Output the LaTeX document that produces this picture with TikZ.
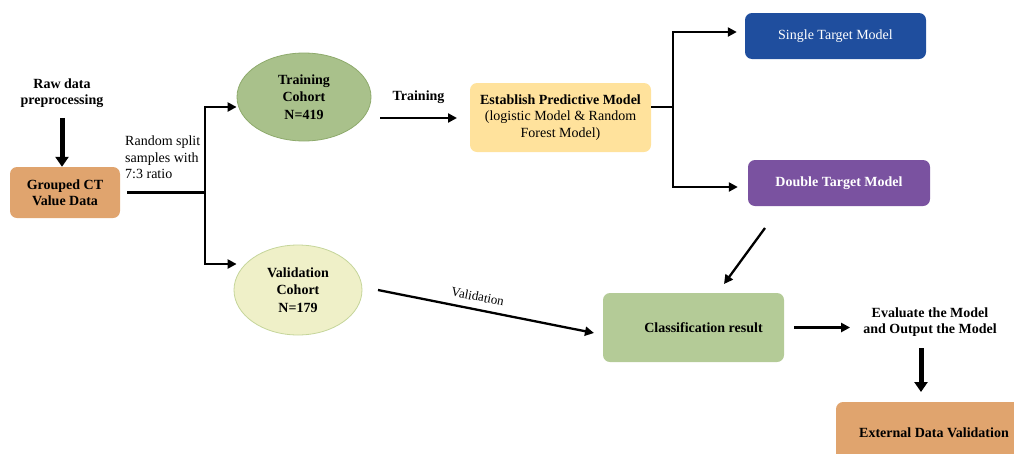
\documentclass[tikz,border=0pt]{standalone}
\usepackage{fontspec}
\setmainfont{Liberation Serif}
\usetikzlibrary{shapes.geometric,arrows.meta}
\definecolor{orangebox}{HTML}{E0A46E}
\definecolor{traingreen}{HTML}{A9C18B}
\definecolor{trainborder}{HTML}{8EAA6C}
\definecolor{valfill}{HTML}{EFF0C8}
\definecolor{valborder}{HTML}{C5D59A}
\definecolor{estfill}{HTML}{FFE29C}
\definecolor{singleblue}{HTML}{1F4E9E}
\definecolor{doublepurple}{HTML}{7A52A0}
\definecolor{clsgreen}{HTML}{B4CB97}
\tikzset{
  txt/.style={align=center, font=\fontsize{14}{16.5}\selectfont\bfseries, inner sep=0pt},
  plain/.style={align=left, font=\fontsize{14}{16.5}\selectfont, inner sep=0pt},
  box/.style={rounded corners=7pt, draw=none, inner sep=0pt, align=center, font=\fontsize{14}{16.5}\selectfont\bfseries},
  oval/.style={ellipse, inner sep=0pt, align=center, line width=0.8pt, font=\fontsize{14}{17.5}\selectfont\bfseries},
  arr/.style={line width=2.3pt, -{Triangle[length=9pt,width=9pt]}},
  ln/.style={line width=2.3pt},
  bigarr/.style={line width=5pt, -{Triangle[length=10pt,width=13pt]}},
}
\begin{document}
\begin{tikzpicture}[x=1pt,y=-1pt]
\useasboundingbox (0,0) rectangle (1014,453);
\clip (0,0) rectangle (1014,453);
% left part
\node[txt] (raw) at (62,93) {Raw data\\preprocessing};
\node[box, fill=orangebox, minimum width=110pt, minimum height=51pt] (grp) at (65,192.5) {Grouped CT\\Value Data};
\draw[bigarr] ([yshift=-10pt]raw.south) -- (raw.south |- grp.north) ;
\node[plain, anchor=north west] (rnd) at (125,136) {Random split\\samples with\\7:3 ratio};
% split
\coordinate (split) at (205,192.5);
\node[oval, fill=traingreen, draw=trainborder, minimum width=134pt, minimum height=88pt] (train) at (304,97) {Training\\Cohort\\N=419};
\node[oval, fill=valfill, draw=valborder, minimum width=128pt, minimum height=90pt] (val) at (298,290) {Validation\\Cohort\\N=179};
\draw[ln] ([xshift=7pt]grp.east) -- ([xshift=1.15pt]split);
\draw[arr] ([yshift=1.15pt]split) |- ([yshift=-10pt]train.west);
\draw[arr] ([yshift=-1.15pt]split) |- ([xshift=3pt,yshift=26pt]val.west);
% training arrow
\coordinate (t1) at (380,118);
\coordinate (t2) at (457,118);
\draw[arr] (t1) -- (t2) node[midway, above=13pt, txt] (trlab) {Training};
% establish
\node[box, fill=estfill, minimum width=181pt, minimum height=69pt, font=\fontsize{14}{16.5}\selectfont] (est) at (560.5,117.5)
  {\textbf{Establish Predictive Model}\\(logistic Model \& Random\\Forest Model)};
\coordinate (fork) at (673,107);
\node[box, fill=singleblue, text=white, minimum width=181pt, minimum height=46pt, font=\fontsize{14}{16.5}\selectfont] (single) at (835.5,36) {Single Target Model};
\node[box, fill=doublepurple, text=white, minimum width=182pt, minimum height=46pt] (double) at (839,183) {Double Target Model};
\draw[ln] ([yshift=10.5pt]est.east) -- ([xshift=1.15pt]fork);
\draw[arr] ([yshift=1.15pt]fork) |- ([xshift=-8pt,yshift=4pt]single.west);
\draw[arr] ([yshift=-1.15pt]fork) |- ([xshift=-10pt,yshift=-4pt]double.west);
% classification
\node[box, fill=clsgreen, minimum width=181pt, minimum height=69pt] (cls) at (693.5,327.5) {};
\node[txt] (clstxt) at ([xshift=10pt]cls.center) {Classification result};
\coordinate (d1) at (765,228);
\coordinate (d2) at (724,284);
\draw[arr] (d1) -- (d2);
\coordinate (v1) at (378,290);
\coordinate (v2) at (594,333);
\draw[arr] (v1) -- (v2) node[pos=0.45, above=4pt, sloped, font=\fontsize{13}{15}\selectfont] (vlab) {Validation};
% evaluate
\node[txt] (eval) at (930,322) {Evaluate the Model\\and Output the Model};
\draw[arr] ([xshift=10pt]cls.east) -- ([xshift=-13pt]eval.west |- cls.east);
\node[box, fill=orangebox, minimum width=194pt, minimum height=62pt] (ext) at (933,433) {};
\node[txt] (exttxt) at (934,433) {External Data Validation};
\coordinate (e1) at (921,348);
\coordinate (e2) at (921,392);
\draw[bigarr] (e1) -- (e2);
\end{tikzpicture}
\end{document}
